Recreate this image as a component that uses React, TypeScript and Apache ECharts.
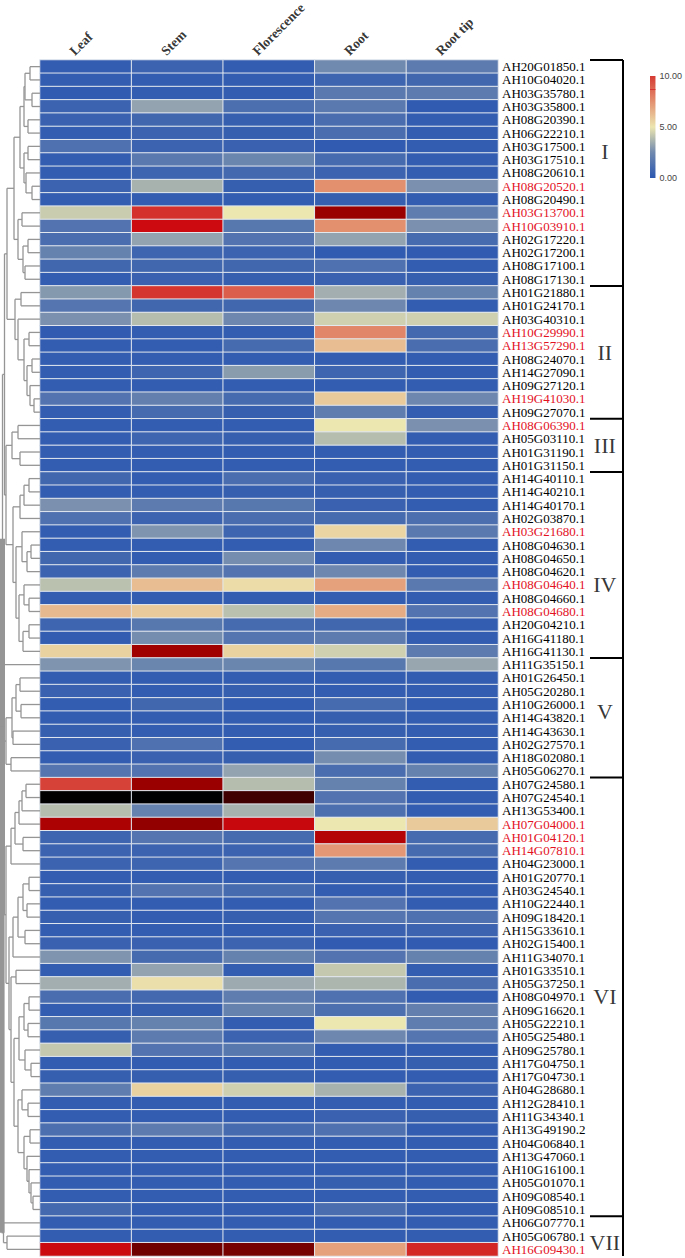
import React, { useEffect, useRef } from 'react';
import * as echarts from 'echarts';

const tissues = ['Leaf', 'Stem', 'Florescence', 'Root', 'Root tip'];

const genes = [
  'AH20G01850.1','AH10G04020.1','AH03G35780.1','AH03G35800.1','AH08G20390.1','AH06G22210.1','AH03G17500.1','AH03G17510.1','AH08G20610.1','AH08G20520.1','AH08G20490.1','AH03G13700.1','AH10G03910.1','AH02G17220.1','AH02G17200.1','AH08G17100.1','AH08G17130.1',
  'AH01G21880.1','AH01G24170.1','AH03G40310.1','AH10G29990.1','AH13G57290.1','AH08G24070.1','AH14G27090.1','AH09G27120.1','AH19G41030.1','AH09G27070.1',
  'AH08G06390.1','AH05G03110.1','AH01G31190.1','AH01G31150.1',
  'AH14G40110.1','AH14G40210.1','AH14G40170.1','AH02G03870.1','AH03G21680.1','AH08G04630.1','AH08G04650.1','AH08G04620.1','AH08G04640.1','AH08G04660.1','AH08G04680.1','AH20G04210.1','AH16G41180.1','AH16G41130.1',
  'AH11G35150.1','AH01G26450.1','AH05G20280.1','AH10G26000.1','AH14G43820.1','AH14G43630.1','AH02G27570.1','AH18G02080.1','AH05G06270.1',
  'AH07G24580.1','AH07G24540.1','AH13G53400.1','AH07G04000.1','AH01G04120.1','AH14G07810.1','AH04G23000.1','AH01G20770.1','AH03G24540.1','AH10G22440.1','AH09G18420.1','AH15G33610.1','AH02G15400.1','AH11G34070.1','AH01G33510.1','AH05G37250.1','AH08G04970.1','AH09G16620.1','AH05G22210.1','AH05G25480.1','AH09G25780.1','AH17G04750.1','AH17G04730.1','AH04G28680.1','AH12G28410.1','AH11G34340.1','AH13G49190.2','AH04G06840.1','AH13G47060.1','AH10G16100.1','AH05G01070.1','AH09G08540.1','AH09G08510.1',
  'AH06G07770.1','AH05G06780.1','AH16G09430.1'
];

const highlighted = [
  'AH08G20520.1','AH03G13700.1','AH10G03910.1','AH10G29990.1','AH13G57290.1','AH19G41030.1','AH08G06390.1',
  'AH03G21680.1','AH08G04640.1','AH08G04680.1','AH07G04000.1','AH01G04120.1','AH14G07810.1','AH16G09430.1'
];

const leafVals = [
  0.3,0.3,0.2,0.6,0.5,0.3,1.3,0.3,0.3,0.6,0.3,4.3,1.4,1.1,2.1,0.8,0.3,
  2.9,1.5,2.7,0.2,0.3,0.3,0.3,0.3,1.4,0.3,
  0.3,0.3,0.3,0.3,
  0.8,0.3,2.7,1.3,0.3,0.3,0.8,0.6,4.0,0.3,6.3,0.7,0.3,5.6,
  2.8,0.3,0.5,0.3,0.3,0.4,0.5,0.3,1.5,
  9.8,25,3.9,14.5,0.7,0.6,0.6,0.3,0.4,0.3,0.4,0.3,0.5,2.8,0.3,3.5,1.1,0.3,1.6,0.4,4.2,0.3,0.4,1.9,0.3,0.3,1.2,0.3,0.3,0.3,0.3,0.3,0.9,
  0.3,0.3,12.6
];
const stemVals = [
  0.6,0.3,0.3,3.2,0.8,0.6,0.6,1.7,0.7,3.6,0.3,10.5,12.5,3.2,0.7,0.8,0.5,
  10.3,0.8,3.9,0.3,0.3,0.3,0.7,0.3,2.0,1.0,
  0.3,0.7,0.3,0.3,
  0.3,0.3,1.8,0.6,2.8,0.3,0.3,1.8,6.2,0.3,5.8,1.6,2.6,15.5,
  2.3,0.3,0.3,0.8,0.3,0.3,1.3,0.5,1.4,
  16,25,2.1,16.8,1.5,0.6,0.7,0.3,1.4,0.3,0.3,0.3,0.5,1.0,3.2,5.2,0.9,0.4,2.1,1.8,1.4,0.3,0.4,5.6,0.3,0.3,1.8,0.3,0.3,0.3,0.3,0.3,0.3,
  0.3,0.3,19.5
];
const florVals = [
  0.3,0.3,0.3,1.2,0.4,0.4,0.5,2.3,0.9,0.4,0.3,5.0,1.6,1.4,0.6,0.8,0.4,
  9.0,0.8,2.4,0.3,1.0,0.3,3.0,0.3,1.0,0.4,
  0.3,0.4,0.3,0.3,
  1.1,0.4,1.6,1.1,0.7,0.3,2.6,1.4,5.3,0.3,4.0,1.0,1.5,5.6,
  2.3,0.3,0.4,0.3,0.3,0.3,0.3,0.4,3.2,
  3.9,22.5,3.6,12.8,1.0,0.6,1.5,0.3,1.0,0.3,0.4,0.3,0.6,2.1,0.3,3.4,1.9,2.1,0.3,0.6,1.6,0.3,0.4,4.4,0.3,0.3,1.0,0.3,0.3,0.3,0.3,0.3,0.3,
  0.3,0.3,19
];
const rootVals = [
  2.5,0.7,1.7,1.7,1.1,1.1,0.2,1.0,0.6,7.5,0.4,16,7.5,3.2,0.2,1.3,0.5,
  3.5,2.4,4.4,7.8,6.2,0.3,0.7,0.3,5.8,1.9,
  5.0,3.9,0.3,0.3,
  0.5,0.4,0.5,1.0,5.5,2.4,0.3,2.4,7.0,0.3,6.7,0.8,1.8,4.4,
  1.6,0.3,0.3,1.0,0.4,0.4,1.0,2.6,1.1,
  2.1,1.4,1.2,5.0,14,7.3,1.8,0.4,0.3,1.4,1.5,0.5,0.2,1.4,4.2,3.7,1.3,1.2,5.0,2.4,0.3,0.3,0.3,3.6,0.3,0.5,1.3,0.3,0.3,0.3,0.4,0.3,1.1,
  0.3,0.3,7.0
];
const tipVals = [
  1.8,0.8,1.8,0.2,0.3,0.3,0.3,0.3,0.3,2.7,0.3,1.9,2.7,1.0,0.2,0.3,0.4,
  2.1,0.3,4.4,0.9,1.1,0.3,0.3,0.3,2.4,0.3,
  2.7,0.3,0.3,0.3,
  0.3,0.3,0.3,1.2,1.7,0.3,0.3,0.3,1.7,0.3,1.4,0.3,0.3,1.8,
  3.3,0.3,0.3,0.3,0.3,0.3,0.3,0.3,2.1,
  0.3,0.3,0.3,5.8,1.0,1.0,0.3,0.3,0.3,0.3,1.3,0.6,0.2,2.1,0.3,1.1,0.3,2.0,1.9,1.5,0.3,0.4,0.3,0.6,0.3,0.4,0.3,0.3,0.3,0.3,0.3,0.3,0.3,
  0.3,0.3,11
];

const groupNames = ['I', 'II', 'III', 'IV', 'V', 'VI', 'VII'];
const groupStartRows = [0, 17, 27, 31, 45, 54, 87];
const groupLabelRows = [6.4, 21.5, 28.5, 39, 48.5, 70, 88.5];

const legendMin = 0;
const legendMax = 10;
const legendInterval = 5;
const legendMarker = 8.7;

// expression colour ramp (0 → 25); 0-10 is the legend range, above it deepens to black
const rampColors = ['#2b57b0', '#7089ae', '#ece6b0', '#e3906f', '#d63b33', '#cc0a10', '#a50000', '#8a0000', '#6a0000', '#400000', '#000000'];
const legendColors = ['#2b57b0', '#7089ae', '#ece6b0', '#e3906f', '#d63b33'];

type TreeNode = number | [number, TreeNode, TreeNode];
const G1: TreeNode = [26,
  [20, [16, [15, [10, 0, 1], [8, 2, 3]], [12, 4, 5]], [16, [12, 6, 7], [14, 8, [8, 9, 10]]]],
  [22, [18, 11, 12], [17, [12, 13, 14], [15, 15, 16]]]
];
const G2: TreeNode = [25, [19, 17, 18], [22, 19, [16, [11, 20, 21], [13, [8, 22, 23], [10, 24, [6, 25, 26]]]]]];
const G3: TreeNode = [28, [22, 27, 28], [20, 29, 30]];
const G4: TreeNode = [27,
  [20, [16, [11, 31, 32], 33], 34],
  [24, [18, 35, [13, [9, 36, 37], 38]], [21, [16, 39, [11, 40, 41]], [17, [11, 42, 43], 44]]]
];
const G5: TreeNode = [34, [28, [24, [20, 46, 47], [19, 48, 49]], [27, 50, 51]], [29, 52, 53]];
const G6: TreeNode = [34,
  [29, [25, [21, [18, [14, 54, 55], 56], 57], [17, 58, 59]], 60],
  [31,
    [27, [22, [17, [11, 61, 62], [13, 63, 64]], [15, 65, 66]], 67],
    [29, [24, 68, 69],
      [26,
        [21, [16, [11, 70, 71], [12, 72, 73]], [15, 74, [9, 75, 76]]],
        [22, [18, 77, [12, 78, 79]], [16, [10, 80, 81], [13, 82, [11, 83, [9, 84, [7, 85, 86]]]]]]
      ]
    ]
  ]
];
const G7: TreeNode = [36.5, 87, [33, 88, 89]];
const dendroTree: TreeNode = [38.4,
  [38, [37.5, [35.5, [33, G1, G2], [34, G3, G4]], [36.5, 45, G5]], G6],
  G7
];

function buildSegments(tree: TreeNode) {
  const segs: number[][] = [];
  const walk = (n: TreeNode): [number, number] => {
    if (typeof n === 'number') return [n, 0];
    const [h, l, r] = n;
    const [yl, hl] = walk(l);
    const [yr, hr] = walk(r);
    const thick = h >= 38 ? 6 : 1.3;
    segs.push([hl, yl, h, yl, 1.3]);
    segs.push([hr, yr, h, yr, 1.3]);
    segs.push([h, yl, h, yr, thick]);
    return [(yl + yr) / 2, h];
  };
  walk(tree);
  return segs;
}

const serif = "'Liberation Serif', 'Times New Roman', serif";

export default function App() {
  const ref = useRef<HTMLDivElement>(null);

  useEffect(() => {
    if (!ref.current) return;
    const chart = echarts.init(ref.current, null, { renderer: 'svg' });
    const cols = [leafVals, stemVals, florVals, rootVals, tipVals];
    const heatData: number[][] = [];
    genes.forEach((_, r) => {
      cols.forEach((vals, c) => heatData.push([c, r, vals[r]]));
    });
    const nRows = genes.length;
    const dendroSegs = buildSegments(dendroTree);
    const bracketSegs: number[][] = [[1, -0.5, 1, nRows - 0.5, 2]];
    groupStartRows.forEach((s) => bracketSegs.push([0, s - 0.5, 1, s - 0.5, 2]));

    const lineRender = (color: string) => (params: any, api: any) => {
      const p1 = api.coord([api.value(0), api.value(1)]);
      const p2 = api.coord([api.value(2), api.value(3)]);
      return {
        type: 'line',
        shape: { x1: p1[0], y1: p1[1], x2: p2[0], y2: p2[1] },
        style: { stroke: color, lineWidth: api.value(4) },
      };
    };

    chart.setOption({
      animation: false,
      backgroundColor: '#ffffff',
      grid: [
        { left: 40, top: 60, width: 458, height: 1196 },
        { left: 0, top: 60, width: 40, height: 1196 },
        { left: 590, top: 60, width: 33, height: 1196 },
        { left: 650, top: 76, width: 13, height: 102 },
        { left: 40, top: 0, width: 458, height: 58 },
      ],
      xAxis: [
        { type: 'category', data: tissues, gridIndex: 0, position: 'top', show: false },
        { type: 'value', gridIndex: 1, min: 0, max: 40, inverse: true, show: false },
        { type: 'value', gridIndex: 2, min: 0, max: 1, show: false },
        { type: 'category', gridIndex: 3, data: ['scale'], show: false },
        { type: 'value', gridIndex: 4, min: -0.5, max: tissues.length - 0.5, show: false },
      ],
      yAxis: [
        {
          type: 'category', data: genes, gridIndex: 0, inverse: true, position: 'right',
          axisLine: { show: false }, axisTick: { show: false }, splitLine: { show: false },
          axisLabel: {
            interval: 0, margin: 4, fontFamily: serif, fontSize: 13,
            color: (v: string) => (highlighted.includes(v) ? '#e3101e' : '#000'),
          },
        },
        { type: 'value', gridIndex: 1, min: -0.5, max: nRows - 0.5, inverse: true, show: false },
        { type: 'value', gridIndex: 2, min: -0.5, max: nRows - 0.5, inverse: true, show: false },
        {
          type: 'value', gridIndex: 3, min: legendMin, max: legendMax, interval: legendInterval, position: 'right',
          axisLine: { show: false }, axisTick: { show: false }, splitLine: { show: false },
          axisLabel: { margin: 4, fontSize: 9, color: '#444', fontFamily: "'Liberation Sans', Arial, sans-serif", formatter: (v: number) => v.toFixed(2) },
        },
        { type: 'value', gridIndex: 4, min: 0, max: 1, show: false },
      ],
      visualMap: [
        { type: 'continuous', show: false, seriesIndex: 0, dimension: 2, min: 0, max: 25, inRange: { color: rampColors } },
      ],
      series: [
        {
          type: 'heatmap', xAxisIndex: 0, yAxisIndex: 0, data: heatData,
          itemStyle: { borderColor: '#e3e8ef', borderWidth: 1 },
          emphasis: { disabled: true },
        },
        {
          type: 'custom', xAxisIndex: 1, yAxisIndex: 1, data: dendroSegs, clip: false,
          renderItem: lineRender('#959595'), silent: true,
        },
        {
          type: 'custom', xAxisIndex: 2, yAxisIndex: 2, data: bracketSegs, clip: false,
          renderItem: lineRender('#000000'), silent: true,
        },
        {
          type: 'scatter', xAxisIndex: 2, yAxisIndex: 2, symbolSize: 1,
          itemStyle: { color: 'transparent' },
          data: groupNames.map((n, i) => ({ name: n, value: [0.45, groupLabelRows[i]] })),
          label: { show: true, position: 'inside', formatter: '{b}', fontFamily: serif, fontSize: 22, color: '#000' },
          silent: true,
        },
        {
          type: 'bar', xAxisIndex: 3, yAxisIndex: 3, data: [legendMax], barWidth: '100%',
          itemStyle: {
            color: new echarts.graphic.LinearGradient(0, 0, 0, 1,
              legendColors.slice().reverse().map((c, i, a) => ({ offset: i / (a.length - 1), color: c }))),
          },
          markLine: {
            silent: true, symbol: 'none', label: { show: false },
            lineStyle: { color: '#d83030', width: 1, type: 'solid' },
            data: [{ yAxis: legendMarker }],
          },
          silent: true,
        },
        {
          type: 'scatter', xAxisIndex: 4, yAxisIndex: 4, symbolSize: 1,
          itemStyle: { color: 'transparent' },
          data: tissues.map((t, i) => ({ name: t, value: [i - 0.1, 0] })),
          label: {
            show: true, position: 'inside', formatter: '{b}', rotate: 45, align: 'left', verticalAlign: 'bottom',
            fontFamily: serif, fontWeight: 'bold', fontSize: 13.5, color: '#000',
          },
          silent: true,
        },
      ],
    });
    return () => chart.dispose();
  }, []);

  return <div ref={ref} style={{ position: 'fixed', left: 0, top: 0, width: 685, height: 1258 }} />;
}
